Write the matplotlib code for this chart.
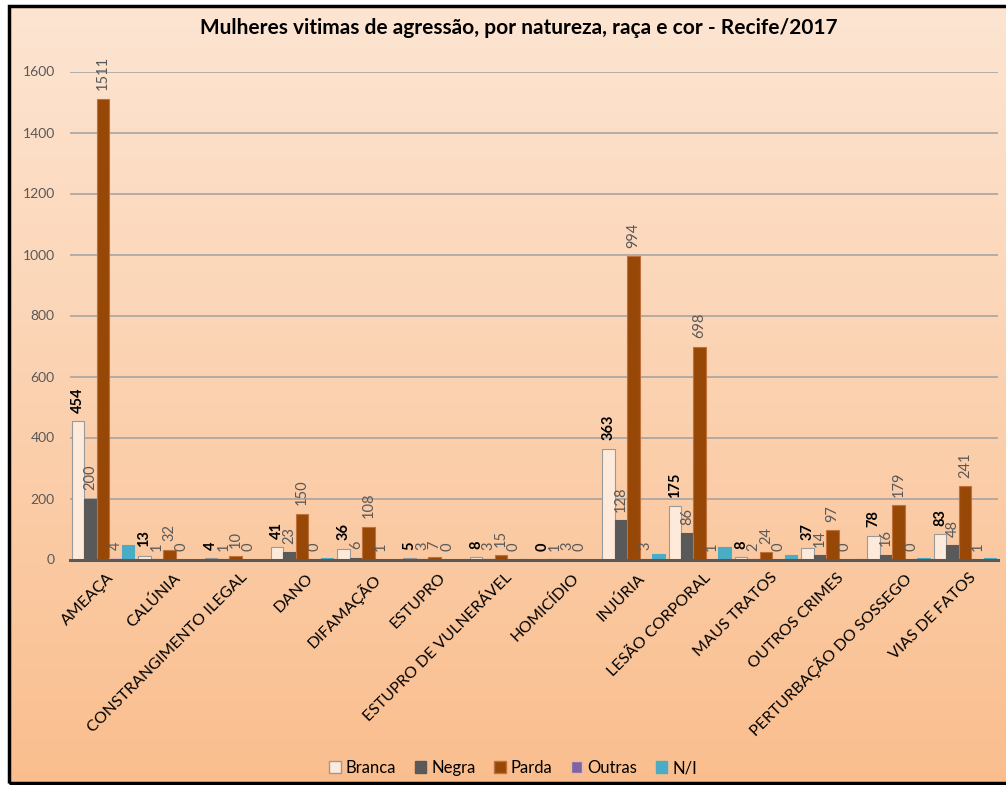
import numpy as np
import matplotlib.pyplot as plt
import matplotlib.transforms as mtransforms
from matplotlib.patches import Rectangle, Patch

plt.rcParams['font.family'] = ['Lato', 'DejaVu Sans']

# dados
categorias = ['AMEAÇA', 'CALÚNIA', 'CONSTRANGIMENTO ILEGAL', 'DANO', 'DIFAMAÇÃO',
              'ESTUPRO', 'ESTUPRO DE VULNERÁVEL', 'HOMICÍDIO', 'INJÚRIA',
              'LESÃO CORPORAL', 'MAUS TRATOS', 'OUTROS CRIMES',
              'PERTURBAÇÃO DO SOSSEGO', 'VIAS DE FATOS']
branca = [454, 13, 4, 41, 36, 5, 8, 0, 363, 175, 8, 37, 78, 83]
negra = [200, 1, 1, 23, 6, 3, 3, 1, 128, 86, 2, 14, 16, 48]
parda = [1511, 32, 10, 150, 108, 7, 15, 3, 994, 698, 24, 97, 179, 241]
outras = [4, 0, 0, 0, 1, 0, 0, 0, 3, 1, 0, 0, 0, 1]
n_i = [48, 0, 0, 6, 0, 0, 2, 0, 18, 41, 14, 2, 5, 6]

series = [
    ('Branca', branca, '#FDEADA', '#9A9A9A'),
    ('Negra', negra, '#595959', '#595959'),
    ('Parda', parda, '#974706', '#C0703A'),
    ('Outras', outras, '#8064A2', '#E6B8B7'),
    ('N/I', n_i, '#4BACC6', '#4BACC6'),
]

W, H = 1006, 785
fig = plt.figure(figsize=(W / 100, H / 100), dpi=100, facecolor='white')

# fundo em degradê dentro da moldura
bg = fig.add_axes([8.5 / W, 2 / H, 1 - 8.5 / W, 1 - 8 / H])
top = np.array([253, 229, 210]) / 255
bottom = np.array([250, 190, 142]) / 255
t = np.linspace(0, 1, 256)[:, None]
grad = (top * (1 - t) + bottom * t)[:, None, :]
bg.imshow(grad, aspect='auto', extent=[0, 1, 0, 1])
bg.axis('off')

ax = fig.add_axes([70 / W, 1 - 559.5 / H, 928 / W, 488 / H])
ax.set_facecolor('none')

x = np.arange(len(categorias))
w = 0.188
for i, (nome, vals, cor, borda) in enumerate(series):
    pos = x + (i - 2) * w
    ax.bar(pos, vals, w, color=cor, edgecolor=borda, linewidth=0.8, label=nome, zorder=3)
    if nome == 'N/I':
        continue
    for px, v in zip(pos, vals):
        if i == 0:
            ax.annotate(str(v), (px, v), xytext=(0, 6), textcoords='offset points',
                        rotation=90, ha='center', va='bottom', fontsize=10.5,
                        fontweight='bold', color='black', annotation_clip=False)
        else:
            ax.annotate(str(v), (px, v), xytext=(0, 6), textcoords='offset points',
                        rotation=90, ha='center', va='bottom', fontsize=10.5,
                        color='#595959', annotation_clip=False)

ax.set_xlim(-0.5, len(categorias) - 0.5)
ax.set_ylim(0, 1600)
ax.set_yticks(range(0, 1601, 200))
ax.yaxis.grid(True, color='#A0A0A0', linewidth=1.1, zorder=0)
ax.set_axisbelow(True)
ax.tick_params(axis='y', length=0, pad=11, labelsize=10, labelcolor='#595959')
ax.tick_params(axis='x', length=0, pad=8, labelsize=11.5)
ax.set_xticks(x)
ax.set_xticklabels(categorias, rotation=45, ha='right', rotation_mode='anchor')
desloc = mtransforms.ScaledTranslation(4 / 100, 0, fig.dpi_scale_trans)
for lab in ax.get_xticklabels():
    lab.set_transform(lab.get_transform() + desloc)

for s in ['left', 'right', 'top']:
    ax.spines[s].set_visible(False)
ax.spines['bottom'].set_color('#595959')
ax.spines['bottom'].set_linewidth(2.2)
ax.spines['bottom'].set_zorder(4)

fig.text(0.516, 1 - 28 / H, 'Mulheres vitimas de agressão, por natureza, raça e cor - Recife/2017',
         ha='center', va='center', fontsize=15, fontweight='bold')

handles = [Patch(facecolor=c, edgecolor=b, label=n) for n, _, c, b in series]
fig.legend(handles=handles, loc='center', bbox_to_anchor=(0.51, 17 / H), ncol=5,
           frameon=False, fontsize=12, handlelength=0.7, handleheight=0.7,
           handletextpad=0.3, columnspacing=1.1)

# moldura
fig.patches.append(Rectangle((8.5 / W, 2 / H), 1.2, 1 - 8 / H, transform=fig.transFigure,
                             fill=False, edgecolor='black', linewidth=2.5, zorder=10))

plt.savefig('out.png', dpi=100)
plt.close()
